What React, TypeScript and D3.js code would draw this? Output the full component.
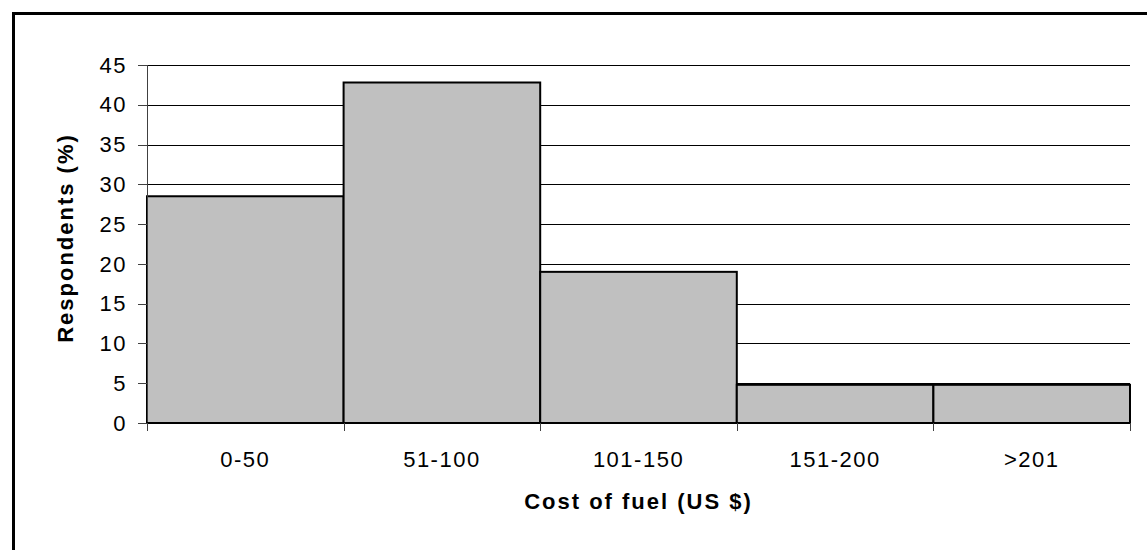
import React from 'react';
import * as d3 from 'd3';

// histogram bins and share of respondents (%)
const categories = ['0-50', '51-100', '101-150', '151-200', '>201'];
const respondents = [28.5, 42.8, 19.0, 4.8, 4.8];
const yTicks = [0, 5, 10, 15, 20, 25, 30, 35, 40, 45];

const xTitle = 'Cost of fuel (US $)';
const yTitle = 'Respondents (%)';

const FONT = '"Liberation Sans", Arial, Helvetica, sans-serif';

export default function App() {
  const width = 1147;
  const height = 550;
  const plot = { left: 147, right: 1130, top: 65, bottom: 423 };

  const x = d3.scaleBand<string>()
    .domain(categories)
    .range([plot.left, plot.right])
    .padding(0);

  const y = d3.scaleLinear()
    .domain([0, 45])
    .range([plot.bottom, plot.top]);

  // tick positions on x axis are the band edges
  const xEdges = categories.map(c => x(c) as number).concat([plot.right]);

  return (
    <svg
      width={width}
      height={height}
      style={{ position: 'absolute', left: 0, top: 0, background: '#fff' }}
      fontFamily={FONT}
    >
      {/* outer frame, runs off the right and bottom of the picture */}
      <rect x={13.5} y={13.5} width={width + 20} height={height + 20}
        fill="none" stroke="#000" strokeWidth={3} />

      {/* gridlines */}
      {yTicks.filter(t => t > 0).map(t => (
        <line key={'g' + t} x1={plot.left} x2={plot.right}
          y1={Math.round(y(t)) + 0.5} y2={Math.round(y(t)) + 0.5}
          stroke="#000" strokeWidth={1} />
      ))}

      {/* bars */}
      {categories.map((c, i) => (
        <rect key={c}
          x={x(c)}
          y={y(respondents[i])}
          width={x.bandwidth()}
          height={plot.bottom - y(respondents[i])}
          fill="#c0c0c0" stroke="#000" strokeWidth={2} />
      ))}

      {/* y axis */}
      <line x1={plot.left + 0.5} x2={plot.left + 0.5} y1={plot.top} y2={plot.bottom}
        stroke="#404040" strokeWidth={1} />
      {yTicks.map(t => (
        <g key={'y' + t}>
          <line x1={138} x2={plot.left} y1={Math.round(y(t)) + 0.5} y2={Math.round(y(t)) + 0.5}
            stroke="#404040" strokeWidth={1} />
          <text x={127} y={y(t)} dy="0.35em" textAnchor="end" fontSize={22}
            letterSpacing={1.5} fill="#000">{t}</text>
        </g>
      ))}

      {/* x axis */}
      <line x1={plot.left} x2={plot.right} y1={plot.bottom} y2={plot.bottom}
        stroke="#000" strokeWidth={2} />
      {xEdges.map((e, i) => (
        <line key={'xt' + i} x1={Math.round(e) + 0.5} x2={Math.round(e) + 0.5}
          y1={plot.bottom} y2={plot.bottom + 8} stroke="#404040" strokeWidth={1} />
      ))}
      {categories.map(c => (
        <text key={'xl' + c} x={(x(c) as number) + x.bandwidth() / 2} y={467}
          textAnchor="middle" fontSize={22} letterSpacing={1.5} fill="#000">{c}</text>
      ))}

      {/* axis titles */}
      <text x={(plot.left + plot.right) / 2} y={509} textAnchor="middle"
        fontSize={22} fontWeight="bold" letterSpacing={2} fill="#000">{xTitle}</text>
      <text transform={`translate(73, ${(plot.top + plot.bottom) / 2 - 6}) rotate(-90)`}
        textAnchor="middle" fontSize={22} fontWeight="bold" letterSpacing={2}
        fill="#000">{yTitle}</text>
    </svg>
  );
}
